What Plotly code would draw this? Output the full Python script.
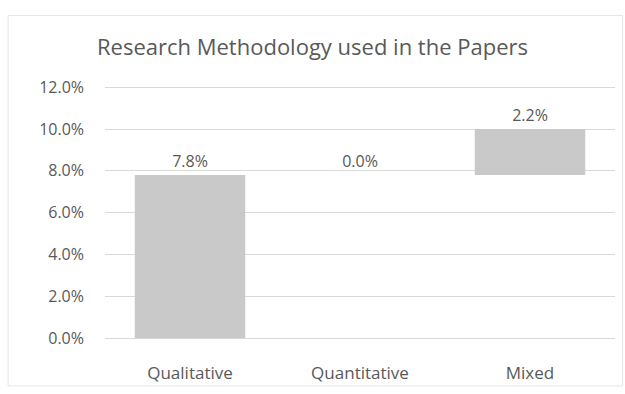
import plotly.graph_objects as go

categories = ["Qualitative", "Quantitative", "Mixed"]
shares = [0.078, 0.000, 0.022]
y_ticks = [0.0, 0.02, 0.04, 0.06, 0.08, 0.10, 0.12]

text_color = "#595959"
font_family = "Open Sans, Liberation Sans, sans-serif"

fig = go.Figure(
    go.Waterfall(
        x=categories,
        y=shares,
        measure=["relative"] * len(shares),
        text=[f"{v * 100:.1f}%" for v in shares],
        textposition="outside",
        textfont=dict(size=16, color=text_color, family=font_family),
        increasing=dict(marker=dict(color="#c9c9c9")),
        decreasing=dict(marker=dict(color="#c9c9c9")),
        totals=dict(marker=dict(color="#c9c9c9")),
        connector=dict(visible=False),
        width=0.65,
        cliponaxis=False,
        hoverinfo="skip",
    )
)

fig.update_layout(
    width=625,
    height=394,
    margin=dict(l=105, r=10, t=86, b=54),
    paper_bgcolor="white",
    plot_bgcolor="white",
    showlegend=False,
    title=dict(
        text="Research Methodology used in the Papers",
        x=0.5,
        xanchor="center",
        y=0.88,
        yanchor="middle",
        font=dict(size=22, color=text_color, family=font_family),
    ),
    xaxis=dict(
        showgrid=False,
        showline=True,
        linecolor="#d9d9d9",
        tickfont=dict(size=17, color=text_color, family=font_family),
        ticks="",
        ticklabelstandoff=20,
    ),
    yaxis=dict(
        range=[0, 0.1206],
        tickvals=y_ticks,
        tickformat=".1%",
        showgrid=True,
        gridcolor="#d9d9d9",
        gridwidth=1,
        zeroline=False,
        tickfont=dict(size=16, color=text_color, family=font_family),
        ticklabelstandoff=20,
    ),
    shapes=[
        dict(
            type="rect", xref="paper", yref="paper",
            x0=-0.19, x1=1.015, y0=-0.19, y1=1.28,
            line=dict(color="#e6e6e6", width=1),
        )
    ],
)

fig.write_html("out.html")
